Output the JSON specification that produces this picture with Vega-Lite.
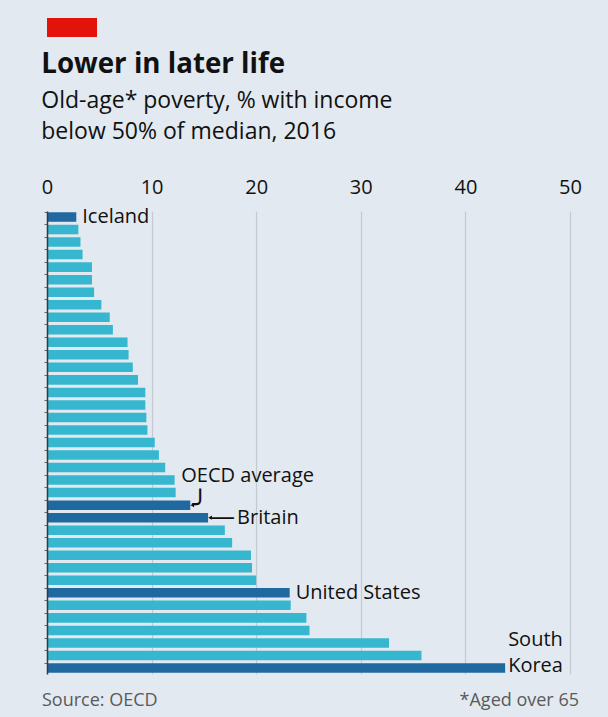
{
  "$schema": "https://vega.github.io/schema/vega-lite/v6.json",
  "background": "#e2e9f0",
  "padding": {"left": 41, "top": 18, "right": 27, "bottom": 9},
  "config": {
    "view": {"stroke": null},
    "text": {"font": "Open Sans"}
  },
  "columns": 1,
  "align": "none",
  "spacing": 14,
  "concat": [
    {
      "width": 55,
      "height": 19,
      "data": {"values": [{"tab": "The Economist"}]},
      "mark": {"type": "rect", "color": "#e3120b", "xOffset": -5, "x2Offset": -5},
      "encoding": {}
    },
    {
      "width": 523,
      "height": 463,
      "title": {
        "text": "Lower in later life",
        "subtitle": ["Old-age* poverty, % with income", "below 50% of median, 2016"],
        "anchor": "start",
        "frame": "bounds",
        "font": "Open Sans",
        "fontSize": 27.7,
        "fontWeight": "bold",
        "color": "#111111",
        "subtitleFont": "Open Sans",
        "subtitleFontSize": 23,
        "subtitleColor": "#111111",
        "subtitleLineHeight": 31.7,
        "subtitlePadding": 11,
        "offset": 33
      },
      "data": {
        "values": [
          {"rank": 1, "value": 2.8, "country": "Iceland", "group": "highlight"},
          {"rank": 2, "value": 3.0, "country": "", "group": "other"},
          {"rank": 3, "value": 3.2, "country": "", "group": "other"},
          {"rank": 4, "value": 3.4, "country": "", "group": "other"},
          {"rank": 5, "value": 4.3, "country": "", "group": "other"},
          {"rank": 6, "value": 4.3, "country": "", "group": "other"},
          {"rank": 7, "value": 4.5, "country": "", "group": "other"},
          {"rank": 8, "value": 5.2, "country": "", "group": "other"},
          {"rank": 9, "value": 6.0, "country": "", "group": "other"},
          {"rank": 10, "value": 6.3, "country": "", "group": "other"},
          {"rank": 11, "value": 7.7, "country": "", "group": "other"},
          {"rank": 12, "value": 7.8, "country": "", "group": "other"},
          {"rank": 13, "value": 8.2, "country": "", "group": "other"},
          {"rank": 14, "value": 8.7, "country": "", "group": "other"},
          {"rank": 15, "value": 9.4, "country": "", "group": "other"},
          {"rank": 16, "value": 9.4, "country": "", "group": "other"},
          {"rank": 17, "value": 9.5, "country": "", "group": "other"},
          {"rank": 18, "value": 9.6, "country": "", "group": "other"},
          {"rank": 19, "value": 10.3, "country": "", "group": "other"},
          {"rank": 20, "value": 10.7, "country": "", "group": "other"},
          {"rank": 21, "value": 11.3, "country": "", "group": "other"},
          {"rank": 22, "value": 12.2, "country": "", "group": "other"},
          {"rank": 23, "value": 12.3, "country": "", "group": "other"},
          {"rank": 24, "value": 13.7, "country": "OECD average", "group": "highlight"},
          {"rank": 25, "value": 15.4, "country": "Britain", "group": "highlight"},
          {"rank": 26, "value": 17.0, "country": "", "group": "other"},
          {"rank": 27, "value": 17.7, "country": "", "group": "other"},
          {"rank": 28, "value": 19.5, "country": "", "group": "other"},
          {"rank": 29, "value": 19.6, "country": "", "group": "other"},
          {"rank": 30, "value": 20.0, "country": "", "group": "other"},
          {"rank": 31, "value": 23.2, "country": "United States", "group": "highlight"},
          {"rank": 32, "value": 23.3, "country": "", "group": "other"},
          {"rank": 33, "value": 24.8, "country": "", "group": "other"},
          {"rank": 34, "value": 25.1, "country": "", "group": "other"},
          {"rank": 35, "value": 32.7, "country": "", "group": "other"},
          {"rank": 36, "value": 35.8, "country": "", "group": "other"},
          {"rank": 37, "value": 43.8, "country": "South Korea", "group": "highlight"}
        ]
      },
      "encoding": {
        "y": {
          "field": "rank",
          "type": "ordinal",
          "scale": {"paddingInner": 0.24, "paddingOuter": 0.1},
          "axis": {
            "orient": "left",
            "labels": false,
            "title": null,
            "domain": true,
            "domainColor": "#3a3a3a",
            "domainWidth": 1.5,
            "ticks": true,
            "tickSize": 3,
            "tickColor": "#6a6a6a",
            "bandPosition": 0,
            "grid": false,
            "zindex": 1
          }
        },
        "x": {
          "field": "value",
          "type": "quantitative",
          "scale": {"domain": [0, 50]},
          "axis": {
            "orient": "top",
            "values": [0, 10, 20, 30, 40, 50],
            "grid": true,
            "gridColor": "#c3cbd2",
            "gridWidth": 1.2,
            "domain": false,
            "ticks": false,
            "labelFont": "Open Sans",
            "labelFontSize": 20,
            "labelColor": "#111111",
            "labelPadding": 13.5,
            "labelFlush": false,
            "labelOverlap": false,
            "title": null
          }
        }
      },
      "layer": [
        {
          "mark": {"type": "bar"},
          "encoding": {
            "color": {
              "field": "group",
              "type": "nominal",
              "scale": {"domain": ["highlight", "other"], "range": ["#1f69a0", "#37b7cf"]},
              "legend": null
            }
          }
        },
        {
          "transform": [{"filter": "datum.country == 'Iceland' || datum.country == 'United States'"}],
          "mark": {"type": "text", "align": "left", "baseline": "middle", "dx": 6, "fontSize": 20, "color": "#111111"},
          "encoding": {"text": {"field": "country"}}
        },
        {
          "transform": [{"filter": "datum.country == 'Britain'"}],
          "mark": {"type": "text", "align": "left", "baseline": "middle", "dx": 29, "fontSize": 20, "color": "#111111"},
          "encoding": {"text": {"field": "country"}}
        },
        {
          "transform": [{"filter": "datum.country == 'Britain'"}],
          "mark": {"type": "text", "align": "left", "baseline": "middle", "dx": 1, "dy": -1, "fontSize": 26, "color": "#111111"},
          "encoding": {"text": {"value": "—"}}
        },
        {
          "transform": [{"filter": "datum.country == 'Britain' || datum.country == 'OECD average'"}],
          "mark": {"type": "point", "shape": "triangle-left", "filled": true, "size": 18, "color": "#111111", "opacity": 1, "xOffset": 2},
          "encoding": {}
        },
        {
          "transform": [{"filter": "datum.country == 'OECD average'"}],
          "mark": {"type": "text", "align": "left", "baseline": "middle", "dx": -9, "dy": -29, "fontSize": 20, "color": "#111111"},
          "encoding": {"text": {"field": "country"}}
        },
        {
          "transform": [{"filter": "datum.country == 'OECD average'"}],
          "mark": {"type": "text", "align": "left", "baseline": "middle", "dx": 2, "dy": 0, "font": "DejaVu Sans", "fontSize": 26, "color": "#111111"},
          "encoding": {"text": {"value": "╯"}}
        },
        {
          "transform": [{"filter": "datum.country == 'South Korea'"}],
          "mark": {"type": "text", "align": "left", "baseline": "alphabetic", "dx": 3, "dy": -22, "fontSize": 20, "lineHeight": 26.5, "lineBreak": " ", "color": "#111111"},
          "encoding": {"text": {"field": "country"}}
        }
      ]
    },
    {
      "width": 523,
      "height": 19,
      "layer": [
        {
          "data": {"values": [{"note": "Source: OECD"}]},
          "mark": {"type": "text", "align": "left", "baseline": "middle", "dx": -5, "fontSize": 18, "color": "#5a5a5a"},
          "encoding": {
            "x": {"datum": 0, "type": "quantitative", "scale": {"domain": [0, 50]}, "axis": null},
            "text": {"field": "note"}
          }
        },
        {
          "data": {"values": [{"note": "*Aged over 65"}]},
          "mark": {"type": "text", "align": "right", "baseline": "middle", "dx": 9, "fontSize": 18, "color": "#5a5a5a"},
          "encoding": {
            "x": {"datum": 50, "type": "quantitative", "scale": {"domain": [0, 50]}, "axis": null},
            "text": {"field": "note"}
          }
        }
      ]
    }
  ]
}
